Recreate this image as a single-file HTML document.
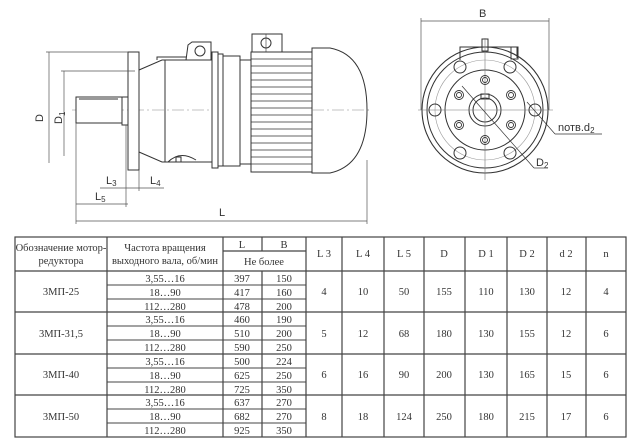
<!DOCTYPE html>
<html><head><meta charset="utf-8"><style>
html,body{margin:0;padding:0;background:#fff;width:640px;height:445px;overflow:hidden}
svg{display:block}
.t{font-family:"Liberation Serif",serif;font-size:10.5px;fill:#333}
.s{font-family:"Liberation Sans",sans-serif;font-size:11px;fill:#333}
</style></head><body>
<svg width="640" height="445" viewBox="0 0 640 445" xmlns="http://www.w3.org/2000/svg">
<g fill="none" stroke="#333" stroke-width="1">
<!-- centerline -->
<line x1="72" y1="110" x2="370" y2="110" stroke="#888" stroke-width="0.6" stroke-dasharray="12,3,2,3"/>
<!-- shaft -->
<rect x="76" y="97" width="46" height="26" fill="#fff"/>
<line x1="79" y1="99" x2="118" y2="99"/>
<rect x="122" y="97" width="6" height="28"/>
<!-- flange -->
<rect x="128" y="52" width="11" height="118" fill="#fff"/>
<!-- cone -->
<path d="M139 70 L162 60 L212 60 L212 162 L175 162 L162 162 L139 152"/>
<line x1="165" y1="60" x2="165" y2="162"/>
<path d="M157 60 L157 57 L186 57"/>
<!-- lug -->
<path d="M186 60 L188 45 L192 42 L211 42 L211 60"/>
<circle cx="200" cy="51" r="5"/>
<path d="M168 162 Q180 150 196 160" />
<rect x="176" y="157" width="5" height="5"/>
<!-- rings -->
<rect x="212" y="52" width="6" height="116" fill="#fff"/>
<rect x="218" y="54" width="5" height="112" fill="#fff"/>
<rect x="223" y="56" width="17" height="110" fill="#fff"/>
<rect x="240" y="60" width="11" height="104" fill="#fff"/>
<!-- motor fins -->
<rect x="251" y="52" width="61" height="120" fill="#fff"/>
<g stroke-width="0.8">
<line x1="251" y1="59" x2="312" y2="59"/><line x1="251" y1="66" x2="312" y2="66"/><line x1="251" y1="73" x2="312" y2="73"/><line x1="251" y1="80" x2="312" y2="80"/><line x1="251" y1="87" x2="312" y2="87"/><line x1="251" y1="94" x2="312" y2="94"/><line x1="251" y1="101" x2="312" y2="101"/><line x1="251" y1="108" x2="312" y2="108"/><line x1="251" y1="115" x2="312" y2="115"/><line x1="251" y1="122" x2="312" y2="122"/><line x1="251" y1="129" x2="312" y2="129"/><line x1="251" y1="136" x2="312" y2="136"/><line x1="251" y1="143" x2="312" y2="143"/><line x1="251" y1="150" x2="312" y2="150"/><line x1="251" y1="157" x2="312" y2="157"/><line x1="251" y1="164" x2="312" y2="164"/>
</g>
<rect x="252" y="34" width="30" height="18" fill="#fff"/>
<circle cx="266" cy="43" r="5"/>
<line x1="266" y1="34" x2="266" y2="52" stroke-width="0.6"/>
<!-- fan cover -->
<path d="M312 48 L330 48 Q367 55 367 110 Q367 165 330 173 L312 173 Z" fill="#fff"/>
<line x1="312" y1="110" x2="370" y2="110" stroke="#888" stroke-width="0.6" stroke-dasharray="12,3,2,3"/>
<!-- dimensions -->
<g stroke="#555" stroke-width="0.7">
<line x1="46" y1="52" x2="128" y2="52"/><line x1="49" y1="52" x2="49" y2="163"/>
<line x1="61" y1="71" x2="135" y2="71"/><line x1="64" y1="71" x2="64" y2="156"/>
<line x1="76" y1="123" x2="76" y2="224"/><line x1="126" y1="125" x2="126" y2="207"/>
<line x1="139" y1="170" x2="139" y2="191"/>
<line x1="100" y1="188" x2="164" y2="188"/>
<line x1="76" y1="204" x2="128" y2="204"/>
<line x1="76" y1="221" x2="367" y2="221"/>
<line x1="367" y1="160" x2="367" y2="224"/>
</g>
<!-- right view -->
<line x1="421" y1="21" x2="549" y2="21" stroke="#555" stroke-width="0.7"/>
<line x1="421" y1="18" x2="421" y2="110" stroke="#555" stroke-width="0.7"/>
<line x1="549" y1="18" x2="549" y2="110" stroke="#555" stroke-width="0.7"/>
<path d="M460 60 L460 47 L517 47 L517 58" />
<rect x="511" y="47" width="7" height="12"/>
<rect x="482" y="39" width="6" height="12"/>
<circle cx="485" cy="110" r="63" stroke-width="1.1"/>
<circle cx="485" cy="110" r="58"/>
<circle cx="485" cy="110" r="50" stroke="#999" stroke-width="0.6"/>
<circle cx="485" cy="110" r="40"/>
<circle cx="485" cy="110" r="16"/>
<circle cx="485" cy="110" r="12"/>
<rect x="481" y="94" width="8" height="5"/>
<line x1="418" y1="110" x2="553" y2="110" stroke="#777" stroke-width="0.6"/>
<line x1="485" y1="38" x2="485" y2="180" stroke="#777" stroke-width="0.6"/>
<g>
<circle cx="435" cy="110" r="6"/><circle cx="535" cy="110" r="6"/>
<circle cx="460" cy="67" r="6"/><circle cx="510" cy="67" r="6"/>
<circle cx="460" cy="153" r="6"/><circle cx="510" cy="153" r="6"/>
</g>
<g stroke-width="0.9">
<circle cx="485" cy="80" r="4.5"/><circle cx="485" cy="80" r="2.5"/>
<circle cx="485" cy="140" r="4.5"/><circle cx="485" cy="140" r="2.5"/>
<circle cx="459" cy="95" r="4.5"/><circle cx="459" cy="95" r="2.5"/>
<circle cx="511" cy="95" r="4.5"/><circle cx="511" cy="95" r="2.5"/>
<circle cx="459" cy="125" r="4.5"/><circle cx="459" cy="125" r="2.5"/>
<circle cx="511" cy="125" r="4.5"/><circle cx="511" cy="125" r="2.5"/>
</g>
<line x1="462" y1="86" x2="534" y2="168" stroke-width="0.7"/>
<line x1="534" y1="168" x2="548" y2="168" stroke-width="0.7"/>
<line x1="527" y1="102" x2="555" y2="134" stroke-width="0.7"/>
<line x1="555" y1="134" x2="602" y2="134" stroke-width="0.7"/>
</g>
<text class="s" x="479" y="17">B</text>
<text class="s" x="558" y="131">nотв.d<tspan font-size="8" dy="2">2</tspan></text>
<text class="s" x="536" y="166">D<tspan font-size="8" dy="2">2</tspan></text>
<text class="s" transform="translate(43,122) rotate(-90)">D</text>
<text class="s" transform="translate(62,124) rotate(-90)">D<tspan font-size="8" dy="3">1</tspan></text>
<text class="s" x="106" y="184">L<tspan font-size="8" dy="2">3</tspan></text>
<text class="s" x="150" y="184">L<tspan font-size="8" dy="2">4</tspan></text>
<text class="s" x="95" y="200">L<tspan font-size="8" dy="2">5</tspan></text>
<text class="s" x="219" y="216">L</text>

<!-- table -->
<g stroke="#444" stroke-width="1.2" fill="none">
<rect x="15" y="237" width="611" height="200"/>
<line x1="15" y1="271" x2="626" y2="271"/>
<line x1="15" y1="312" x2="626" y2="312"/>
<line x1="15" y1="354" x2="626" y2="354"/>
<line x1="15" y1="395" x2="626" y2="395"/>
<line x1="107" y1="237" x2="107" y2="437"/>
<line x1="223" y1="237" x2="223" y2="437"/>
<line x1="262" y1="237" x2="262" y2="251"/>
<line x1="262" y1="271" x2="262" y2="437"/>
<line x1="306" y1="237" x2="306" y2="437"/>
<line x1="223" y1="251" x2="306" y2="251"/>
<line x1="342" y1="237" x2="342" y2="437"/>
<line x1="384" y1="237" x2="384" y2="437"/>
<line x1="424" y1="237" x2="424" y2="437"/>
<line x1="465" y1="237" x2="465" y2="437"/>
<line x1="507" y1="237" x2="507" y2="437"/>
<line x1="547" y1="237" x2="547" y2="437"/>
<line x1="586" y1="237" x2="586" y2="437"/>
</g>
<g stroke="#444" stroke-width="0.9">
<line x1="107" y1="285" x2="306" y2="285"/><line x1="107" y1="299" x2="306" y2="299"/>
<line x1="107" y1="326" x2="306" y2="326"/><line x1="107" y1="340" x2="306" y2="340"/>
<line x1="107" y1="368" x2="306" y2="368"/><line x1="107" y1="382" x2="306" y2="382"/>
<line x1="107" y1="409" x2="306" y2="409"/><line x1="107" y1="423" x2="306" y2="423"/>
</g>
<g class="t" text-anchor="middle">
<text x="61" y="251">Обозначение мотор-</text>
<text x="61" y="264">редуктора</text>
<text x="165" y="251">Частота вращения</text>
<text x="165" y="264">выходного вала, об/мин</text>
<text x="242" y="248">L</text><text x="284" y="248">B</text>
<text x="264" y="265">Не более</text>
<text x="324" y="257">L 3</text><text x="363" y="257">L 4</text><text x="404" y="257">L 5</text><text x="444" y="257">D</text><text x="486" y="257">D 1</text><text x="527" y="257">D 2</text><text x="566" y="257">d 2</text><text x="606" y="257">n</text>

<text x="61" y="295">3МП-25</text>
<text x="61" y="337">3МП-31,5</text>
<text x="61" y="378">3МП-40</text>
<text x="61" y="420">3МП-50</text>

<text x="165" y="282">3,55…16</text><text x="165" y="296">18…90</text><text x="165" y="310">112…280</text>
<text x="165" y="323">3,55…16</text><text x="165" y="337">18…90</text><text x="165" y="351">112…280</text>
<text x="165" y="365">3,55…16</text><text x="165" y="379">18…90</text><text x="165" y="393">112…280</text>
<text x="165" y="406">3,55…16</text><text x="165" y="420">18…90</text><text x="165" y="434">112…280</text>

<text x="242" y="282">397</text><text x="284" y="282">150</text>
<text x="242" y="296">417</text><text x="284" y="296">160</text>
<text x="242" y="310">478</text><text x="284" y="310">200</text>
<text x="242" y="323">460</text><text x="284" y="323">190</text>
<text x="242" y="337">510</text><text x="284" y="337">200</text>
<text x="242" y="351">590</text><text x="284" y="351">250</text>
<text x="242" y="365">500</text><text x="284" y="365">224</text>
<text x="242" y="379">625</text><text x="284" y="379">250</text>
<text x="242" y="393">725</text><text x="284" y="393">350</text>
<text x="242" y="406">637</text><text x="284" y="406">270</text>
<text x="242" y="420">682</text><text x="284" y="420">270</text>
<text x="242" y="434">925</text><text x="284" y="434">350</text>

<text x="324" y="295">4</text><text x="363" y="295">10</text><text x="404" y="295">50</text><text x="444" y="295">155</text><text x="486" y="295">110</text><text x="527" y="295">130</text><text x="566" y="295">12</text><text x="606" y="295">4</text>
<text x="324" y="337">5</text><text x="363" y="337">12</text><text x="404" y="337">68</text><text x="444" y="337">180</text><text x="486" y="337">130</text><text x="527" y="337">155</text><text x="566" y="337">12</text><text x="606" y="337">6</text>
<text x="324" y="378">6</text><text x="363" y="378">16</text><text x="404" y="378">90</text><text x="444" y="378">200</text><text x="486" y="378">130</text><text x="527" y="378">165</text><text x="566" y="378">15</text><text x="606" y="378">6</text>
<text x="324" y="420">8</text><text x="363" y="420">18</text><text x="404" y="420">124</text><text x="444" y="420">250</text><text x="486" y="420">180</text><text x="527" y="420">215</text><text x="566" y="420">17</text><text x="606" y="420">6</text>
</g>
</svg>
</body></html>
